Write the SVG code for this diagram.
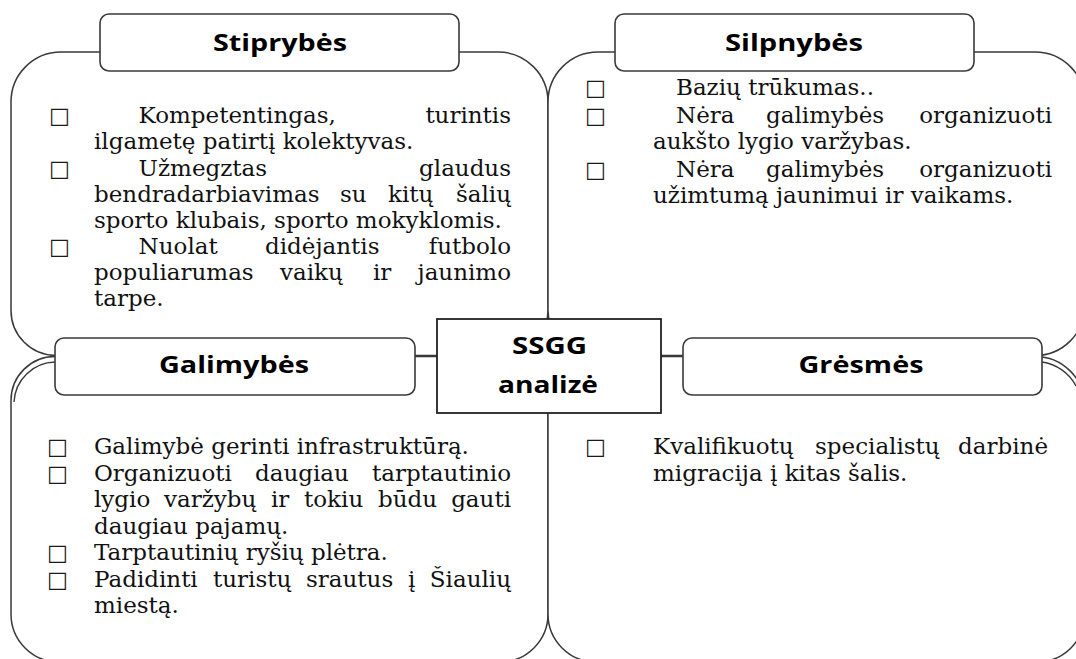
<svg xmlns="http://www.w3.org/2000/svg" width="1076" height="659" viewBox="0 0 1076 659">
<style>
.shape{fill:#fff;stroke:#3a3a3a;stroke-width:1.5}
.edge{fill:none;stroke:#3a3a3a;stroke-width:1.4}
.hdr{fill:#fff;stroke:#3a3a3a;stroke-width:1.6}
.ctr{fill:#fff;stroke:#222;stroke-width:1.8}
.conn{stroke:#3a3a3a;stroke-width:1.5;fill:none}
.ht{font-family:"Open Sans","DejaVu Sans",sans-serif;font-weight:700;font-size:23px;fill:#000;text-anchor:middle}
.b{font-family:"DejaVu Serif","Liberation Serif",serif;font-size:23px;fill:#111}
.e{text-anchor:end}
.bl{font-family:"DejaVu Sans",sans-serif;font-size:22px;fill:#1a1a1a}
</style>
<rect width="1076" height="659" fill="#fff"/>
<g id="shapes">
<path class="shape" d="M61,52 H498 A50,50 0 0 1 548,102 V310.5 A45,45 0 0 1 503,355.5 H56 A45,45 0 0 1 11,310.5 V102 A50,50 0 0 1 61,52 Z"/>
<path class="shape" d="M598,52 H1035 A50,50 0 0 1 1085,102 V305.5 A50,50 0 0 1 1035,355.5 H593 A45,45 0 0 1 548,310.5 V102 A50,50 0 0 1 598,52 Z"/>
<path class="shape" d="M55,356.5 H498 A50,50 0 0 1 548,406.5 V614 A48,48 0 0 1 500,662 H59 A48,48 0 0 1 11,614 V400.5 A44,44 0 0 1 55,356.5 Z"/>
<path class="shape" d="M598,356.5 H1035 A50,50 0 0 1 1085,406.5 V614 A48,48 0 0 1 1037,662 H596 A48,48 0 0 1 548,614 V406.5 A50,50 0 0 1 598,356.5 Z"/>
<path class="edge" d="M55,362 A42,42 0 0 0 14,402"/>
<path class="edge" d="M1042,362 A46,46 0 0 1 1076,386"/>
</g>
<g id="connectors">
<line class="conn" x1="415" y1="356" x2="437" y2="356"/>
<line class="conn" x1="661" y1="356" x2="683" y2="356"/>
</g>
<g id="node-stiprybes">
<rect class="hdr" x="100" y="14" width="359" height="57" rx="9"/>
<text class="ht" x="280" y="51" textLength="134" lengthAdjust="spacingAndGlyphs">Stiprybės</text>
<text class="bl" x="49" y="123">□</text>
<text class="b" x="138.6" y="123">Kompetentingas,</text>
<text class="b e" x="511" y="123">turintis</text>
<text class="b" x="94" y="149">ilgametę patirtį kolektyvas.</text>
<text class="bl" x="49" y="176">□</text>
<text class="b" x="138.6" y="176">Užmegztas</text>
<text class="b e" x="511" y="176">glaudus</text>
<text class="b" x="94" y="202">bendradarbiavimas</text>
<text class="b" x="340" y="202">su</text>
<text class="b" x="388" y="202">kitų</text>
<text class="b e" x="511" y="202">šalių</text>
<text class="b" x="94" y="228">sporto klubais, sporto mokyklomis.</text>
<text class="bl" x="49" y="254">□</text>
<text class="b" x="138.6" y="254">Nuolat</text>
<text class="b" x="265" y="254">didėjantis</text>
<text class="b e" x="511" y="254">futbolo</text>
<text class="b" x="94" y="280">populiarumas</text>
<text class="b" x="280" y="280">vaikų</text>
<text class="b" x="373" y="280">ir</text>
<text class="b e" x="511" y="280">jaunimo</text>
<text class="b" x="94" y="306">tarpe.</text>
</g>
<g id="node-silpnybes">
<rect class="hdr" x="615" y="14" width="359" height="57" rx="9"/>
<text class="ht" x="794" y="51" textLength="138" lengthAdjust="spacingAndGlyphs">Silpnybės</text>
<text class="bl" x="585" y="95">□</text>
<text class="b" x="676" y="95">Bazių trūkumas..</text>
<text class="bl" x="585" y="123">□</text>
<text class="b" x="676" y="123">Nėra</text>
<text class="b" x="766" y="123">galimybės</text>
<text class="b e" x="1052" y="123">organizuoti</text>
<text class="b" x="653" y="149">aukšto lygio varžybas.</text>
<text class="bl" x="585" y="177">□</text>
<text class="b" x="676" y="177">Nėra</text>
<text class="b" x="766" y="177">galimybės</text>
<text class="b e" x="1052" y="177">organizuoti</text>
<text class="b" x="653" y="203">užimtumą jaunimui ir vaikams.</text>
</g>
<g id="node-galimybes">
<rect class="hdr" x="55" y="338" width="360" height="57" rx="9"/>
<text class="ht" x="234" y="373" textLength="150" lengthAdjust="spacingAndGlyphs">Galimybės</text>
<text class="bl" x="47" y="454">□</text>
<text class="b" x="94" y="454">Galimybė gerinti infrastruktūrą.</text>
<text class="bl" x="47" y="480.5">□</text>
<text class="b" x="94" y="480.5">Organizuoti</text>
<text class="b" x="255" y="480.5">daugiau</text>
<text class="b e" x="511" y="480.5">tarptautinio</text>
<text class="b" x="94" y="507">lygio</text>
<text class="b" x="164" y="507">varžybų</text>
<text class="b" x="271" y="507">ir</text>
<text class="b" x="304" y="507">tokiu</text>
<text class="b" x="378" y="507">būdu</text>
<text class="b e" x="511" y="507">gauti</text>
<text class="b" x="94" y="533.5">daugiau pajamų.</text>
<text class="bl" x="47" y="560">□</text>
<text class="b" x="94" y="560">Tarptautinių ryšių plėtra.</text>
<text class="bl" x="47" y="586.5">□</text>
<text class="b" x="94" y="586.5">Padidinti</text>
<text class="b" x="213" y="586.5">turistų</text>
<text class="b" x="306" y="586.5">srautus</text>
<text class="b" x="408" y="586.5">į</text>
<text class="b e" x="511" y="586.5">Šiaulių</text>
<text class="b" x="94" y="613">miestą.</text>
</g>
<g id="node-gresmes">
<rect class="hdr" x="683" y="338" width="359" height="57" rx="9"/>
<text class="ht" x="861" y="373" textLength="125" lengthAdjust="spacingAndGlyphs">Grėsmės</text>
<text class="bl" x="585" y="454">□</text>
<text class="b" x="653" y="454">Kvalifikuotų</text>
<text class="b" x="815" y="454">specialistų</text>
<text class="b e" x="1048" y="454">darbinė</text>
<text class="b" x="653" y="480.5">migracija į kitas šalis.</text>
</g>
<g id="node-center">
<rect class="ctr" x="437" y="319" width="224" height="94"/>
<text class="ht" x="549.5" y="354" textLength="75" lengthAdjust="spacingAndGlyphs">SSGG</text>
<text class="ht" x="548" y="393" textLength="100" lengthAdjust="spacingAndGlyphs">analizė</text>
</g>
</svg>
